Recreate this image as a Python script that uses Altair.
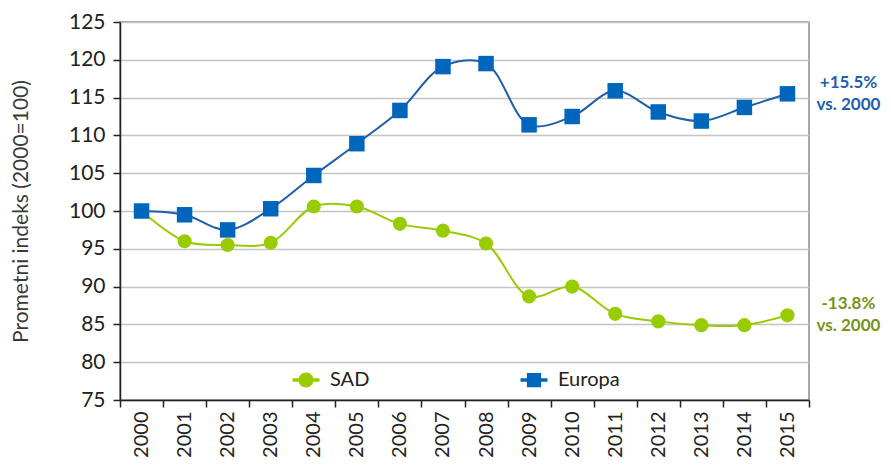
import altair as alt
import pandas as pd

years = [str(y) for y in range(2000, 2016)]
sad = [100.0, 96.0, 95.5, 95.8, 100.6, 100.6, 98.3, 97.4, 95.7, 88.7, 90.0, 86.4, 85.4, 84.9, 84.9, 86.2]
europa = [100.0, 99.5, 97.5, 100.3, 104.7, 108.9, 113.3, 119.1, 119.5, 111.4, 112.5, 115.9, 113.1, 111.9, 113.7, 115.5]
series = ["SAD", "Europa"]
colors_marker = ["#99cc00", "#0066bb"]
colors_line = ["#99cc00", "#1f5fa8"]
note_text = ["-13.8%\nvs. 2000", "+15.5%\nvs. 2000"]
note_colors = ["#77931a", "#1f5fae"]

rows = []
for s, vals in zip(series, [sad, europa]):
    for y, v in zip(years, vals):
        rows.append({"Godina": y, "Indeks": v, "Serija": s})
df = pd.DataFrame(rows)

notes = pd.DataFrame({
    "Godina": [years[-1], years[-1]],
    "Indeks": [sad[-1], europa[-1]],
    "Serija": series,
    "txt": note_text,
})

FONT = "Lato"

x_enc = alt.X("Godina:N", sort=years, title=None,
              scale=alt.Scale(paddingInner=0, paddingOuter=0),
              axis=alt.Axis(labelAngle=270, labelFontSize=20, labelColor="#222222",
                            labelFont=FONT, labelPadding=4, tickBand="extent",
                            domainColor="#222222", tickColor="#222222",
                            tickSize=7, domainWidth=1.5, tickWidth=1.5,
                            grid=False, labelAlign="right", labelBaseline="middle",
                            labelOverlap=False))
y_enc = alt.Y("Indeks:Q", title="Prometni indeks (2000=100)",
              scale=alt.Scale(domain=[75, 125], nice=False, zero=False),
              axis=alt.Axis(values=list(range(75, 126, 5)), labelFontSize=21,
                            labelColor="#222222", labelFont=FONT, labelOverlap=False,
                            titleFont=FONT, titleFontSize=21, titleColor="#3a3a3a",
                            titleFontWeight="normal", titlePadding=37,
                            domainColor="#222222", tickColor="#222222",
                            tickSize=7, domainWidth=1.5, tickWidth=1.5,
                            gridColor="#c4c4c4", gridWidth=1.5, labelPadding=8))

line_paths = [
    "M-1.8,-0.22L1.8,-0.22L1.8,0.22L-1.8,0.22ZM-1,0A1,1 0 1,1 1,0A1,1 0 1,1 -1,0Z",
    "M-1.8,-0.22L1.8,-0.22L1.8,0.22L-1.8,0.22ZM-0.95,-0.95L0.95,-0.95L0.95,0.95L-0.95,0.95Z",
]

layers = []
for s, lc in zip(series, colors_line):
    layers.append(
        alt.Chart(df).transform_filter(alt.datum.Serija == s)
        .mark_line(interpolate="catmull-rom", strokeWidth=2, color=lc)
        .encode(x=x_enc, y=y_enc)
    )

layers.append(
    alt.Chart(df).transform_filter(alt.datum.Serija == "SAD")
    .mark_circle(size=200, opacity=1, color=colors_marker[0]).encode(x=x_enc, y=y_enc)
)
layers.append(
    alt.Chart(df).transform_filter(alt.datum.Serija == "Europa")
    .mark_square(size=240, opacity=1, color=colors_marker[1]).encode(x=x_enc, y=y_enc)
)

leg = alt.Legend(title=None, orient="none", legendX=176, legendY=348,
                 direction="horizontal", columns=2, columnPadding=150,
                 labelFont=FONT, labelFontSize=20, labelColor="#222222",
                 symbolSize=225, symbolStrokeWidth=0, symbolOpacity=1,
                 labelOffset=14)

layers.append(
    alt.Chart(df).mark_point(opacity=0, size=0, filled=True).encode(
        x=x_enc, y=y_enc,
        color=alt.Color("Serija:N", scale=alt.Scale(domain=series, range=colors_marker), legend=leg),
        shape=alt.Shape("Serija:N", scale=alt.Scale(domain=series, range=line_paths), legend=leg),
    )
)

for s, nc in zip(series, note_colors):
    layers.append(
        alt.Chart(notes).transform_filter(alt.datum.Serija == s)
        .mark_text(fontSize=17, fontWeight="bold", font=FONT, lineBreak="\n",
                   align="center", baseline="middle", dx=61, lineHeight=22,
                   dy=-11, color=nc)
        .encode(x=x_enc, y=y_enc, text="txt:N")
    )

chart = alt.layer(*layers).properties(
    width=689, height=378,
    autosize=alt.AutoSizeParams(type="none"),
    padding={"left": 112, "top": 14, "right": 74, "bottom": 57},
    background="white",
).configure_view(stroke="#8a8a8a", strokeWidth=1.5)

chart.save("out.html", embed_options={"renderer": "svg", "actions": False})
